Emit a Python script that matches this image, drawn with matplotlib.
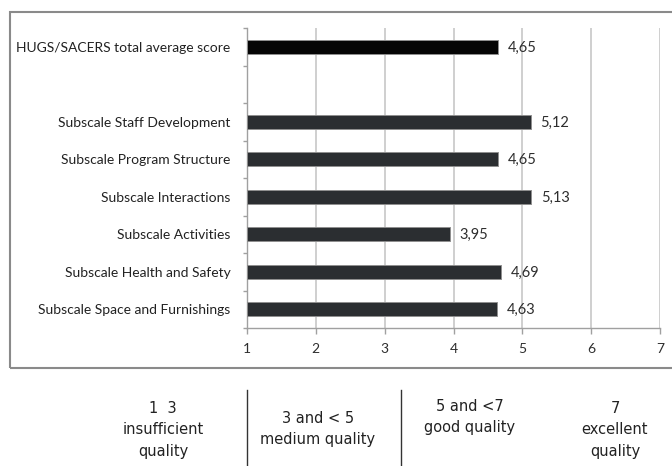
import matplotlib.pyplot as plt
import matplotlib.patches as mpatches
import numpy as np

plt.rcParams['font.family'] = ['Lato', 'DejaVu Sans']

# data (top to bottom), '' is the empty gap row
categories = ['HUGS/SACERS total average score', '',
              'Subscale Staff Development', 'Subscale Program Structure',
              'Subscale Interactions', 'Subscale Activities',
              'Subscale Health and Safety', 'Subscale Space and Furnishings']
scores = [4.65, np.nan, 5.12, 4.65, 5.13, 3.95, 4.69, 4.63]
x_ticks = [1, 2, 3, 4, 5, 6, 7]

legend_texts = ['1  3\ninsufficient\nquality', '3 and < 5\nmedium quality',
                '5 and <7\ngood quality', '7\nexcellent\nquality']

fig = plt.figure(figsize=(6.72, 4.66), dpi=100)
ax = fig.add_axes([247 / 672, 1 - 328 / 466, 413 / 672, 300 / 466])

ypos = np.arange(len(categories))
bar_colors = ['#050505'] + ['#2b2e31'] * (len(categories) - 1)
base = x_ticks[0]
vals = np.array(scores, dtype=float)
ax.barh(ypos, vals - base, left=base, height=0.38, color=bar_colors,
        edgecolor='#8f8f8f', linewidth=0.7, zorder=3)

for y, v in zip(ypos, vals):
    if np.isnan(v):
        continue
    ax.text(v + 0.14, y + 0.03, ('%.2f' % v).replace('.', ','), va='center', ha='left',
            fontsize=10.5, color='#2e2e2e')

ax.set_xlim(x_ticks[0], x_ticks[-1])
ax.set_ylim(len(categories) - 0.5, -0.5)
ax.set_xticks(x_ticks)
ax.set_xticklabels([str(t) for t in x_ticks], fontsize=10, color='#2e2e2e')
ax.tick_params(axis='x', length=4, color='#a0a0a0', width=1, pad=7)

ax.set_yticks(ypos)
ax.set_yticklabels(categories, fontsize=10, color='#222222')
ax.set_yticks(np.arange(len(categories) + 1) - 0.5, minor=True)
ax.tick_params(axis='y', which='major', length=0, pad=12)
ax.tick_params(axis='y', which='minor', length=3, color='#a0a0a0', width=1)

ax.xaxis.grid(True, color='#cccccc', linewidth=1.3, zorder=0)
ax.set_axisbelow(True)
for side in ['top', 'right']:
    ax.spines[side].set_visible(False)
ax.spines['left'].set_color('#a0a0a0')
ax.spines['bottom'].set_color('#a0a0a0')
ax.spines['left'].set_linewidth(1)
ax.spines['bottom'].set_linewidth(1)

# outer frame (right side runs off the image)
frame = mpatches.Rectangle((10 / 672, 1 - 368 / 466), 1.0, (368 - 12) / 466,
                           transform=fig.transFigure, fill=False,
                           edgecolor='#8a8a8a', linewidth=1.5)
fig.patches.append(frame)

# quality legend under the chart
leg_font = ['Liberation Sans Narrow', 'DejaVu Sans']
leg_x = [163, 318, 470, 615]
leg_y = [430, 429, 417, 430]
for t, x, y in zip(legend_texts, leg_x, leg_y):
    fig.text(x / 672, 1 - y / 466, t, ha='center', va='center', fontsize=10.5,
             color='#222222', linespacing=1.55, family=leg_font)
for x in [247, 401]:
    fig.add_artist(plt.Line2D([x / 672, x / 672], [1 - 390 / 466, 1 - 466 / 466],
                              transform=fig.transFigure, color='#333333', linewidth=1))

fig.savefig('out.png', dpi=100)
